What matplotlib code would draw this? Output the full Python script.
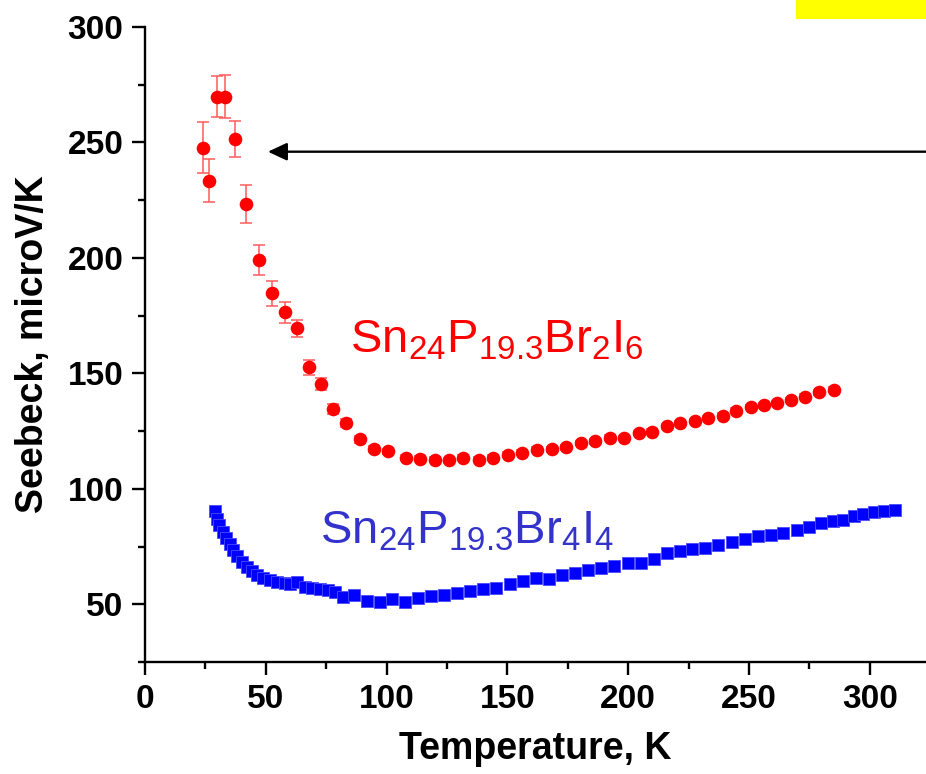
import matplotlib
matplotlib.use("Agg")
import matplotlib.pyplot as plt
from matplotlib.patches import Rectangle
from matplotlib.ticker import MultipleLocator

plt.rcParams['font.family'] = ['Liberation Sans', 'DejaVu Sans']
plt.rcParams['mathtext.fontset'] = 'custom'
plt.rcParams['mathtext.rm'] = 'Liberation Sans'
plt.rcParams['mathtext.it'] = 'Liberation Sans:italic'
plt.rcParams['mathtext.bf'] = 'Liberation Sans:bold'

# Sn24P19.3Br2I6 (red circles, with error bars)
t_br2i6 = [24.0, 26.7, 29.6, 33.3, 37.2, 41.9, 47.2, 52.6, 57.8, 62.9, 67.9, 72.8,
           77.9, 83.4, 89.1, 94.9, 100.5, 108.2, 113.9, 120.0, 126.0, 131.8, 138.2,
           144.1, 150.1, 156.0, 162.3, 168.3, 174.3, 180.5, 186.3, 192.5, 198.2,
           204.5, 210.0, 215.9, 221.5, 227.5, 233.1, 239.1, 244.7, 250.7, 256.3,
           261.8, 267.4, 273.2, 279.0, 285.2]
s_br2i6 = [247.8, 233.5, 269.9, 269.9, 251.5, 223.4, 199.1, 184.7, 176.4, 169.5, 152.6, 145.4,
           134.6, 128.6, 121.5, 117.1, 116.2, 113.5, 113.0, 112.6, 112.3, 113.5, 112.6,
           113.5, 114.8, 115.6, 116.9, 117.1, 117.9, 119.8, 120.5, 122.1, 122.0,
           124.1, 124.8, 127.1, 128.5, 129.3, 130.6, 131.7, 133.9, 135.4, 136.1,
           137.1, 138.5, 139.9, 141.8, 143.0]
err_br2i6 = [11.0, 9.3, 8.9, 9.5, 8.0, 8.2, 6.6, 5.4, 4.5, 3.7, 3.2, 2.5,
             2.0, 1.8, 1.5, 1.3, 1.2, 1.0, 1.0, 1.0, 1.0, 1.0, 1.0,
             1.0, 1.0, 1.0, 1.0, 1.0, 1.0, 1.0, 1.0, 1.0, 1.0,
             1.0, 1.0, 1.0, 1.0, 1.0, 1.0, 1.0, 1.0, 1.0, 1.0,
             1.0, 1.0, 1.0, 1.0, 1.0]

# Sn24P19.3Br4I4 (blue squares)
t_br4i4 = [29.0, 29.9, 30.8, 32.1, 33.5, 35.2, 36.5, 38.2, 40.0, 42.1, 44.2, 46.4,
           49.0, 51.7, 54.5, 57.9, 60.0, 62.8, 66.2, 69.0, 72.4, 75.9, 78.6,
           82.0, 86.5, 91.7, 97.1, 102.3, 107.7, 113.1, 118.5, 123.9, 129.2,
           134.6, 140.1, 145.5, 151.0, 156.4, 161.8, 167.1, 172.6, 177.9, 183.4,
           188.8, 194.3, 199.9, 205.3, 210.6, 215.9, 221.4, 226.6, 232.0, 237.4,
           242.8, 248.3, 253.7, 259.1, 264.2, 269.7, 274.9, 280.0, 284.8, 289.0,
           293.4, 297.3, 301.7, 305.8, 310.4]
s_br4i4 = [90.3, 87.1, 84.2, 81.3, 78.8, 75.9, 73.4, 71.0, 68.4, 66.2, 64.4, 62.7,
           61.2, 60.5, 59.8, 59.1, 58.6, 59.8, 57.6, 57.2, 56.6, 56.2, 55.2,
           53.2, 53.8, 51.6, 51.2, 52.2, 51.2, 52.9, 53.5, 54.0, 54.9,
           55.6, 56.8, 57.2, 58.9, 60.2, 61.4, 60.9, 62.5, 63.6, 65.0,
           65.5, 66.7, 67.7, 67.7, 69.6, 72.0, 73.0, 73.9, 74.5, 75.6,
           76.8, 78.4, 79.7, 80.2, 80.7, 82.3, 83.6, 85.0, 86.1, 86.6,
           88.1, 89.3, 90.0, 90.3, 90.7]

x_ticks = [0, 50, 100, 150, 200, 250, 300]
y_ticks = [50, 100, 150, 200, 250, 300]

fig = plt.figure(figsize=(9.26, 7.74), dpi=100)
ax = fig.add_axes([145 / 926, 1 - 662 / 774, 1 - 145 / 926, (662 - 27) / 774])

# error bars with end caps, then the filled circles on top
ax.errorbar(t_br2i6, s_br2i6, yerr=err_br2i6, fmt='none', ecolor='#ff5a5a',
            elinewidth=1.1, capsize=4.5, capthick=1.1, zorder=2)
ax.plot(t_br2i6, s_br2i6, 'o', color='#ff0000', markersize=9.8,
        markeredgewidth=0, zorder=3)
ax.plot(t_br4i4, s_br4i4, 's', color='#0000ff', markersize=9.0,
        markeredgewidth=0.6, markeredgecolor='#4a4aff', zorder=3)

ax.text(84.9, 159.2, r'$\mathrm{Sn_{24}P_{19.3}Br_{2}I_{6}}$', color='#ff0000',
        fontsize=34, ha='left', va='baseline')
ax.text(72.4, 76.3, r'$\mathrm{Sn_{24}P_{19.3}Br_{4}I_{4}}$', color='#3333cc',
        fontsize=34, ha='left', va='baseline')

ax.annotate('', xy=(50.9, 246.0), xytext=(340, 246.0),
            arrowprops=dict(arrowstyle='-|>,head_length=0.77,head_width=0.36',
                            lw=1.7, color='black', mutation_scale=15,
                            shrinkA=0, shrinkB=0),
            annotation_clip=False)

ax.set_xlim(0, 323.3)
ax.set_ylim(25, 300)
ax.set_xticks(x_ticks)
ax.set_yticks(y_ticks)
ax.xaxis.set_minor_locator(MultipleLocator(25))
ax.yaxis.set_minor_locator(MultipleLocator(25))

for side in ('top', 'right'):
    ax.spines[side].set_visible(False)
for side in ('left', 'bottom'):
    ax.spines[side].set_linewidth(1.7)

ax.tick_params(which='major', direction='out', length=9.5, width=1.7,
               labelsize=24, pad=6)
ax.tick_params(which='minor', direction='out', length=5, width=1.7)
for lab in ax.get_xticklabels() + ax.get_yticklabels():
    lab.set_fontweight('bold')

ax.set_xlabel('Temperature, K', fontsize=27, fontweight='bold', labelpad=12)
ax.set_ylabel('Seebeck, microV/K', fontsize=27, fontweight='bold', labelpad=12)

fig.patches.append(Rectangle((796 / 926, 1 - 19 / 774), 130 / 926, 19 / 774,
                             transform=fig.transFigure, facecolor='#ffff00',
                             edgecolor='none', zorder=0))

fig.savefig('out.png', dpi=100)
